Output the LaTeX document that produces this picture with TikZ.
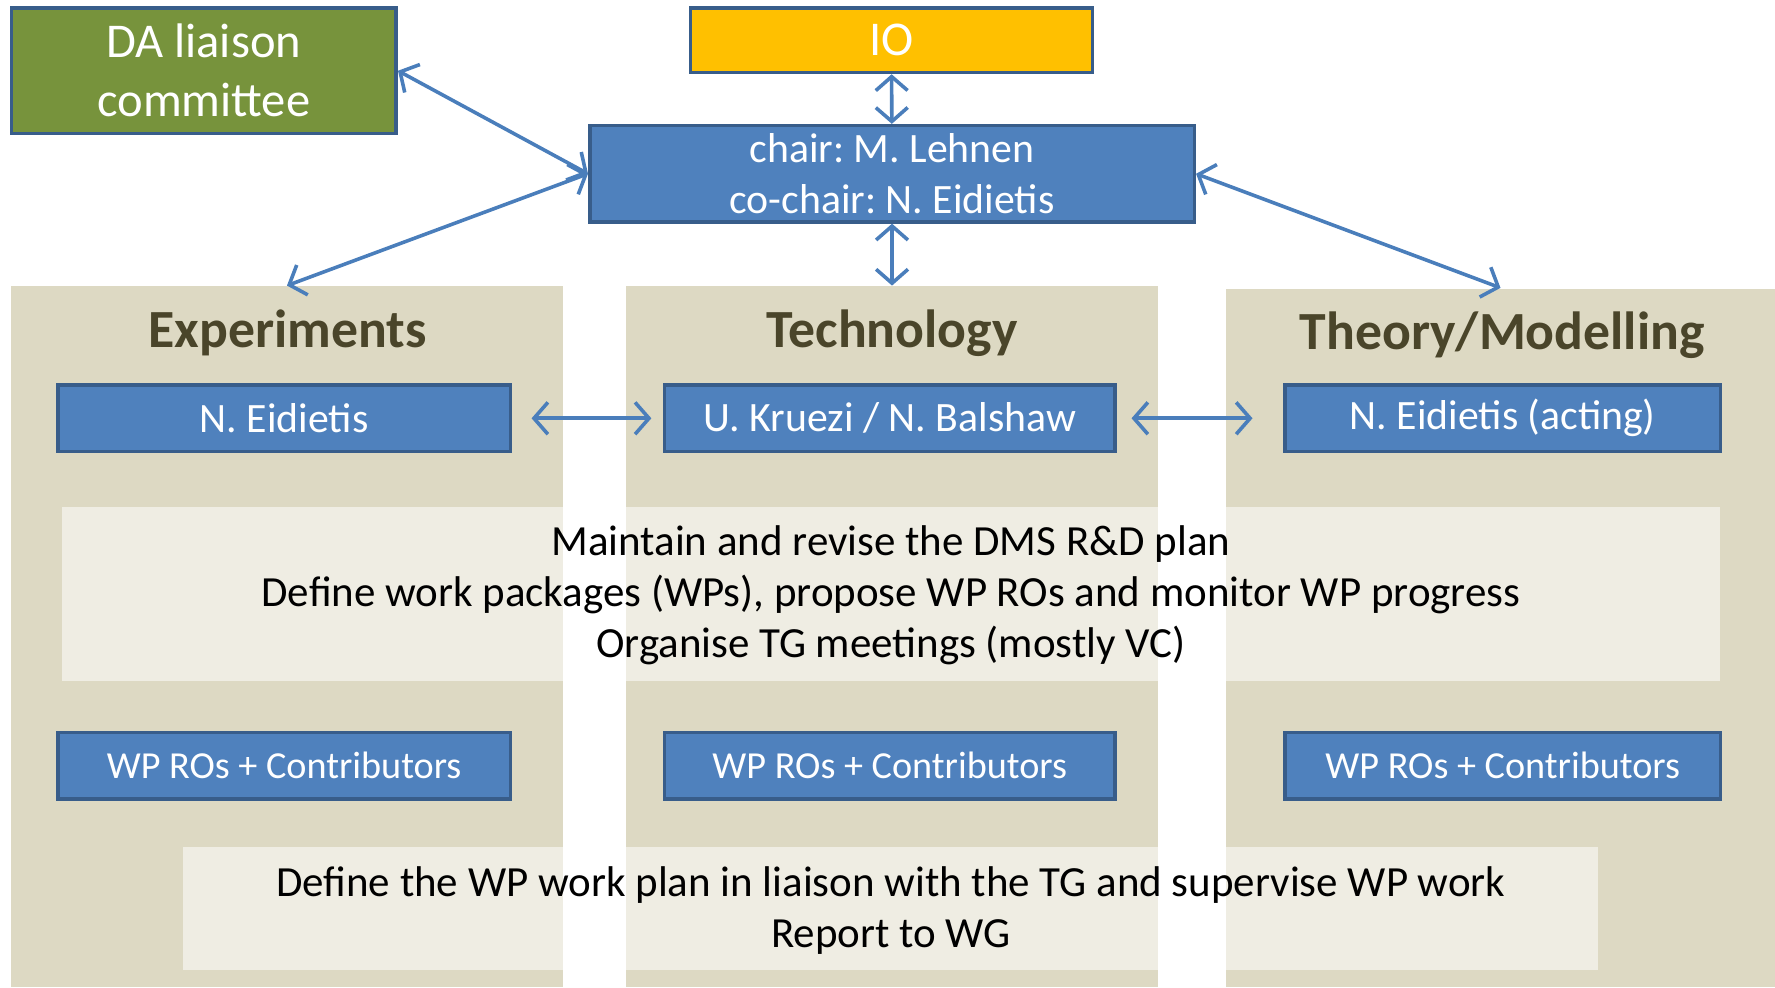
\documentclass[tikz,border=0pt]{standalone}
\usepackage{fontspec}
\setmainfont{Carlito}
\usetikzlibrary{arrows.meta}
\frenchspacing

\definecolor{tan}{HTML}{DDD9C3}
\definecolor{boxblue}{HTML}{4F81BD}
\definecolor{boxline}{HTML}{385D8A}
\definecolor{daolive}{HTML}{77933C}
\definecolor{ioamber}{HTML}{FFC000}
\definecolor{headtxt}{HTML}{4A452A}
\definecolor{linkblue}{HTML}{4A7EBB}

\tikzset{
  column/.style={draw=none,fill=tan,inner sep=0pt,minimum width=#1},
  note/.style={draw=none,fill=white,fill opacity=0.55,inner sep=0pt},
  bluebox/.style={draw=boxline,line width=0.9pt,fill=boxblue,text=white,inner sep=0pt,
    align=center,font=\fontsize{10.5}{12.8}\selectfont},
  wpbox/.style={bluebox,font=\fontsize{9.6}{11.6}\selectfont},
  heading/.style={text=headtxt,font=\fontsize{13.5}{16}\selectfont\bfseries},
  bodytext/.style={align=center,font=\fontsize{10.8}{12.8}\selectfont},
  link/.style={draw=linkblue,line width=0.9pt,{Straight Barb[length=3.5pt,width=8pt]}-{Straight Barb[length=3.5pt,width=8pt]}}
}

\begin{document}
\begin{tikzpicture}[x=1cm,y=-1cm]
\useasboundingbox (0,0) rectangle (15.68,8.72);
% task group columns
\node[column=4.87cm,minimum height=6.19cm] (exp) at (2.535,5.625) {};
\node[column=4.70cm,minimum height=6.19cm] (tech) at (7.88,5.625) {};
\node[column=4.85cm,minimum height=6.17cm] (theo) at (13.255,5.635) {};
\node[heading] (exphead) at (2.54,2.94) {Experiments};
\node[heading] (techhead) at (7.88,2.94) {Technology};
\node[heading] (theohead) at (13.27,2.96) {Theory/Modelling};
% shaded task panels
\node[note,minimum width=14.64cm,minimum height=1.54cm] (tasks) at (7.87,5.25) {};
\node[note,minimum width=12.50cm,minimum height=1.09cm] (wptasks) at (7.87,8.025) {};
\node[bodytext] (taskstxt) at (7.87,5.26) {Maintain and revise the DMS R\&D plan\\
  Define work packages (WPs), propose WP ROs and monitor WP progress\\
  Organise TG meetings (mostly VC)};
\node[bodytext] (wptxt) at (7.87,8.04) {Define the WP work plan in liaison with the TG and supervise WP work\\
  Report to WG};
% boxes
\node[bluebox,fill=daolive,minimum width=3.40cm,minimum height=1.11cm,
  font=\fontsize{12.2}{14.8}\selectfont] (da) at (1.80,0.625) {DA liaison\\committee};
\node[bluebox,fill=ioamber,minimum width=3.55cm,minimum height=0.57cm,
  font=\fontsize{12.2}{14.8}\selectfont] (io) at (7.875,0.355) {IO};
\node[bluebox,minimum width=5.34cm,minimum height=0.85cm] (chair) at (7.88,1.535)
  {chair: M. Lehnen\\co-chair: N. Eidietis};
\node[bluebox,minimum width=4.00cm,minimum height=0.59cm] (expl) at (2.51,3.695) {N. Eidietis};
\node[bluebox,minimum width=3.98cm,minimum height=0.59cm] (techl) at (7.86,3.695) {U. Kruezi / N. Balshaw};
\node[bluebox,minimum width=3.85cm,minimum height=0.59cm] (theol) at (13.275,3.695) {N. Eidietis (acting)};
\node[wpbox,minimum width=4.00cm,minimum height=0.59cm] (expwp) at (2.51,6.765) {WP ROs + Contributors};
\node[wpbox,minimum width=3.98cm,minimum height=0.59cm] (techwp) at (7.86,6.765) {WP ROs + Contributors};
\node[wpbox,minimum width=3.85cm,minimum height=0.59cm] (theowp) at (13.275,6.765) {WP ROs + Contributors};
% links
\draw[link] (da.east) -- (chair.west);
\draw[link] (chair.west) -- (exp.north);
\draw[link] (io) -- (chair);
\draw[link] (chair) -- (tech);
\draw[link] (chair.east) -- (theo.north);
\draw[link,shorten <=0.17cm,shorten >=0.10cm] (expl) -- (techl);
\draw[link,shorten <=0.13cm,shorten >=0.27cm] (techl) -- (theol);
\end{tikzpicture}
\end{document}
